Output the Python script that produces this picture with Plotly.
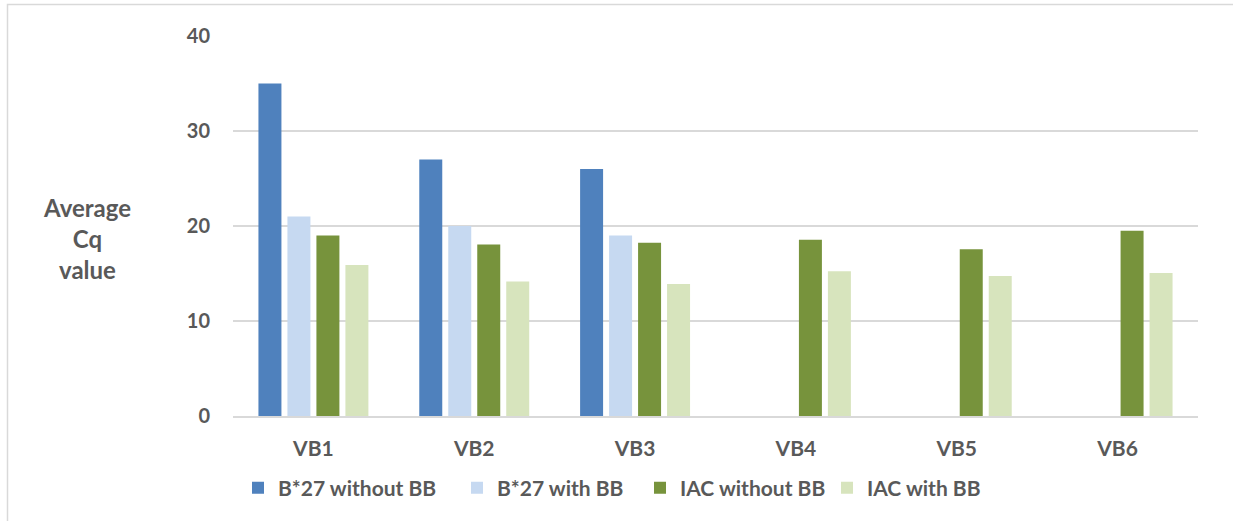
import plotly.graph_objects as go

categories = ["VB1", "VB2", "VB3", "VB4", "VB5", "VB6"]
b27_without = [35, 27, 26, None, None, None]
b27_with = [21, 20, 19, None, None, None]
iac_without = [19, 18.05, 18.25, 18.55, 17.55, 19.5]
iac_with = [15.9, 14.15, 13.9, 15.25, 14.75, 15.05]
series_names = ["B*27 without BB", "B*27 with BB", "IAC without BB", "IAC with BB"]
colors = ["#4F81BD", "#C6D9F1", "#77933C", "#D7E4BD"]
y_ticks = [0, 10, 20, 30, 40]

W, H = 1233, 521
L, R, T, B = 233, 35, 36, 105
pw, ph = W - L - R, H - T - B

fam = "Lato, Calibri, Carlito, sans-serif"
tick_font = dict(family=fam, size=20, color="#595959", weight="bold")
xtick_font = dict(family=fam, size=21, color="#595959", weight="bold")
leg_font = dict(family=fam, size=21, color="#595959", weight="bold")

legend_px = [238, 457, 640, 827]
legend_ids = ["legend", "legend2", "legend3", "legend4"]

fig = go.Figure()
for name, vals, col, lid in zip(series_names, [b27_without, b27_with, iac_without, iac_with], colors, legend_ids):
    fig.add_trace(go.Bar(x=categories, y=vals, name=name, legend=lid,
                         marker=dict(color=col, line=dict(width=0))))

legends = {}
for lid, px in zip(legend_ids, legend_px):
    legends[lid] = dict(orientation="h", x=(px - L) / pw, y=-(488 - 416) / ph, xanchor="left", yanchor="middle",
                        font=leg_font, itemwidth=30, bgcolor="rgba(0,0,0,0)")

fig.update_layout(
    width=W, height=H,
    margin=dict(l=L, r=R, t=T, b=B, autoexpand=False),
    paper_bgcolor="white", plot_bgcolor="white",
    barmode="group", bargap=0.279, bargroupgap=0.207,
    font=tick_font,
    showlegend=True,
    xaxis=dict(showgrid=False, showline=True, linecolor="#D9D9D9", linewidth=2, ticks="",
               tickfont=xtick_font, ticklabelstandoff=13),
    yaxis=dict(range=[0, 40], tickvals=y_ticks, showgrid=True, gridcolor="#D9D9D9", gridwidth=2,
               zeroline=False, showline=False, ticks="", tickfont=tick_font, ticklabelstandoff=22),
    annotations=[dict(text="Average<br>Cq<br>value", xref="paper", yref="paper",
                      x=(87 - L) / pw, y=(416 - 238) / ph, xanchor="center", yanchor="middle",
                      showarrow=False, font=dict(family=fam, size=24, color="#595959", weight="bold"),
                      align="center")],
    shapes=[dict(type="rect", xref="paper", yref="paper",
                 x0=(7.5 - L) / pw, x1=(W + 20 - L) / pw, y0=-(H + 20 - 416) / ph, y1=(416 - 4.5) / ph,
                 line=dict(color="#D9D9D9", width=1.5), fillcolor="rgba(0,0,0,0)", layer="below")],
    **legends,
)

fig.write_html("out.html", config={"displayModeBar": False},
               post_script="document.body.style.margin='0';document.body.style.overflow='hidden';")
